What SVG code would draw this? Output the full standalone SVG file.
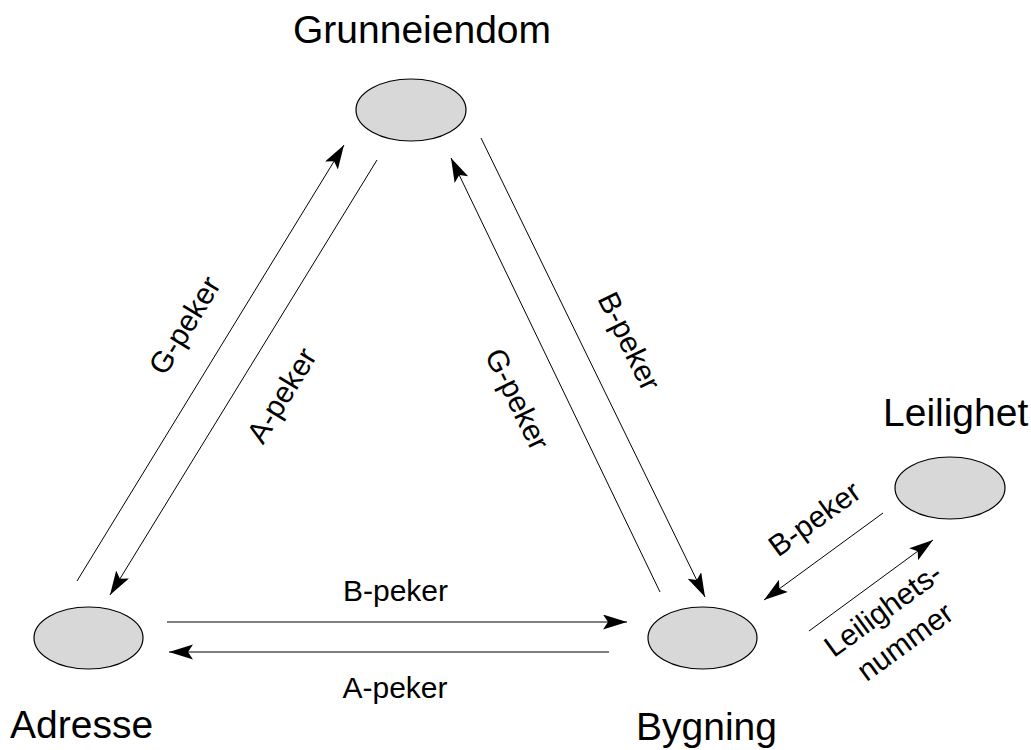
<svg xmlns="http://www.w3.org/2000/svg" width="1031" height="750" viewBox="0 0 1031 750">
  <style>
    .node ellipse { fill: #d8d8d8; stroke: #000; stroke-width: 1.2; }
    .title { font-family: "Liberation Sans", Arial, sans-serif; font-size: 39px; fill: #000; }
    .lbl { font-family: "Liberation Sans", Arial, sans-serif; font-size: 30px; fill: #000; text-anchor: middle; }
    .edge { stroke: #000; stroke-width: 1; fill: none; marker-end: url(#arrow); }
  </style>
  <defs>
    <marker id="arrow" markerUnits="userSpaceOnUse" markerWidth="26" markerHeight="18" refX="24" refY="7.5" orient="auto">
      <path d="M0,0 L24,7.5 L0,15 L5,7.5 Z" fill="#000"/>
    </marker>
  </defs>
  <rect width="1031" height="750" fill="#fff"/>

  <g id="grunneiendom" class="node">
    <ellipse cx="411" cy="110" rx="55" ry="31"/>
    <text class="title" x="422" y="43" text-anchor="middle">Grunneiendom</text>
  </g>
  <g id="adresse" class="node">
    <ellipse cx="88.5" cy="638" rx="54.5" ry="31"/>
    <text class="title" x="10" y="738">Adresse</text>
  </g>
  <g id="bygning" class="node">
    <ellipse cx="702.5" cy="638" rx="54.5" ry="31"/>
    <text class="title" x="636" y="740">Bygning</text>
  </g>
  <g id="leilighet" class="node">
    <ellipse cx="950" cy="488" rx="55" ry="31"/>
    <text class="title" x="883" y="426">Leilighet</text>
  </g>

  <g id="connectors">
    <!-- Adresse <-> Grunneiendom -->
    <line class="edge" x1="77" y1="581" x2="344" y2="145"/>
    <line class="edge" x1="377" y1="160" x2="110" y2="595"/>
    <!-- Grunneiendom <-> Bygning -->
    <line class="edge" x1="481" y1="138" x2="705" y2="597"/>
    <line class="edge" x1="660" y1="592" x2="451" y2="158"/>
    <!-- Adresse <-> Bygning -->
    <line class="edge" x1="167" y1="622" x2="627" y2="622"/>
    <line class="edge" x1="609" y1="652" x2="169" y2="652"/>
    <!-- Leilighet <-> Bygning -->
    <line class="edge" x1="883" y1="513" x2="764" y2="600"/>
    <line class="edge" x1="809" y1="631" x2="933" y2="540"/>

    <text class="lbl" transform="translate(184,325) rotate(-58.5)" y="11">G-peker</text>
    <text class="lbl" transform="translate(281,395) rotate(-58.5)" y="11">A-peker</text>
    <text class="lbl" transform="translate(630,341) rotate(64)" y="11">B-peker</text>
    <text class="lbl" transform="translate(518,399) rotate(64)" y="11">G-peker</text>
    <text class="lbl" x="395.5" y="601">B-peker</text>
    <text class="lbl" x="395" y="698">A-peker</text>
    <text class="lbl" transform="translate(814,518) rotate(-36)" y="11">B-peker</text>
    <text class="lbl" transform="translate(889,618) rotate(-36)">Leilighets-</text>
    <text class="lbl" transform="translate(911,650) rotate(-36)">nummer</text>
  </g>
</svg>
